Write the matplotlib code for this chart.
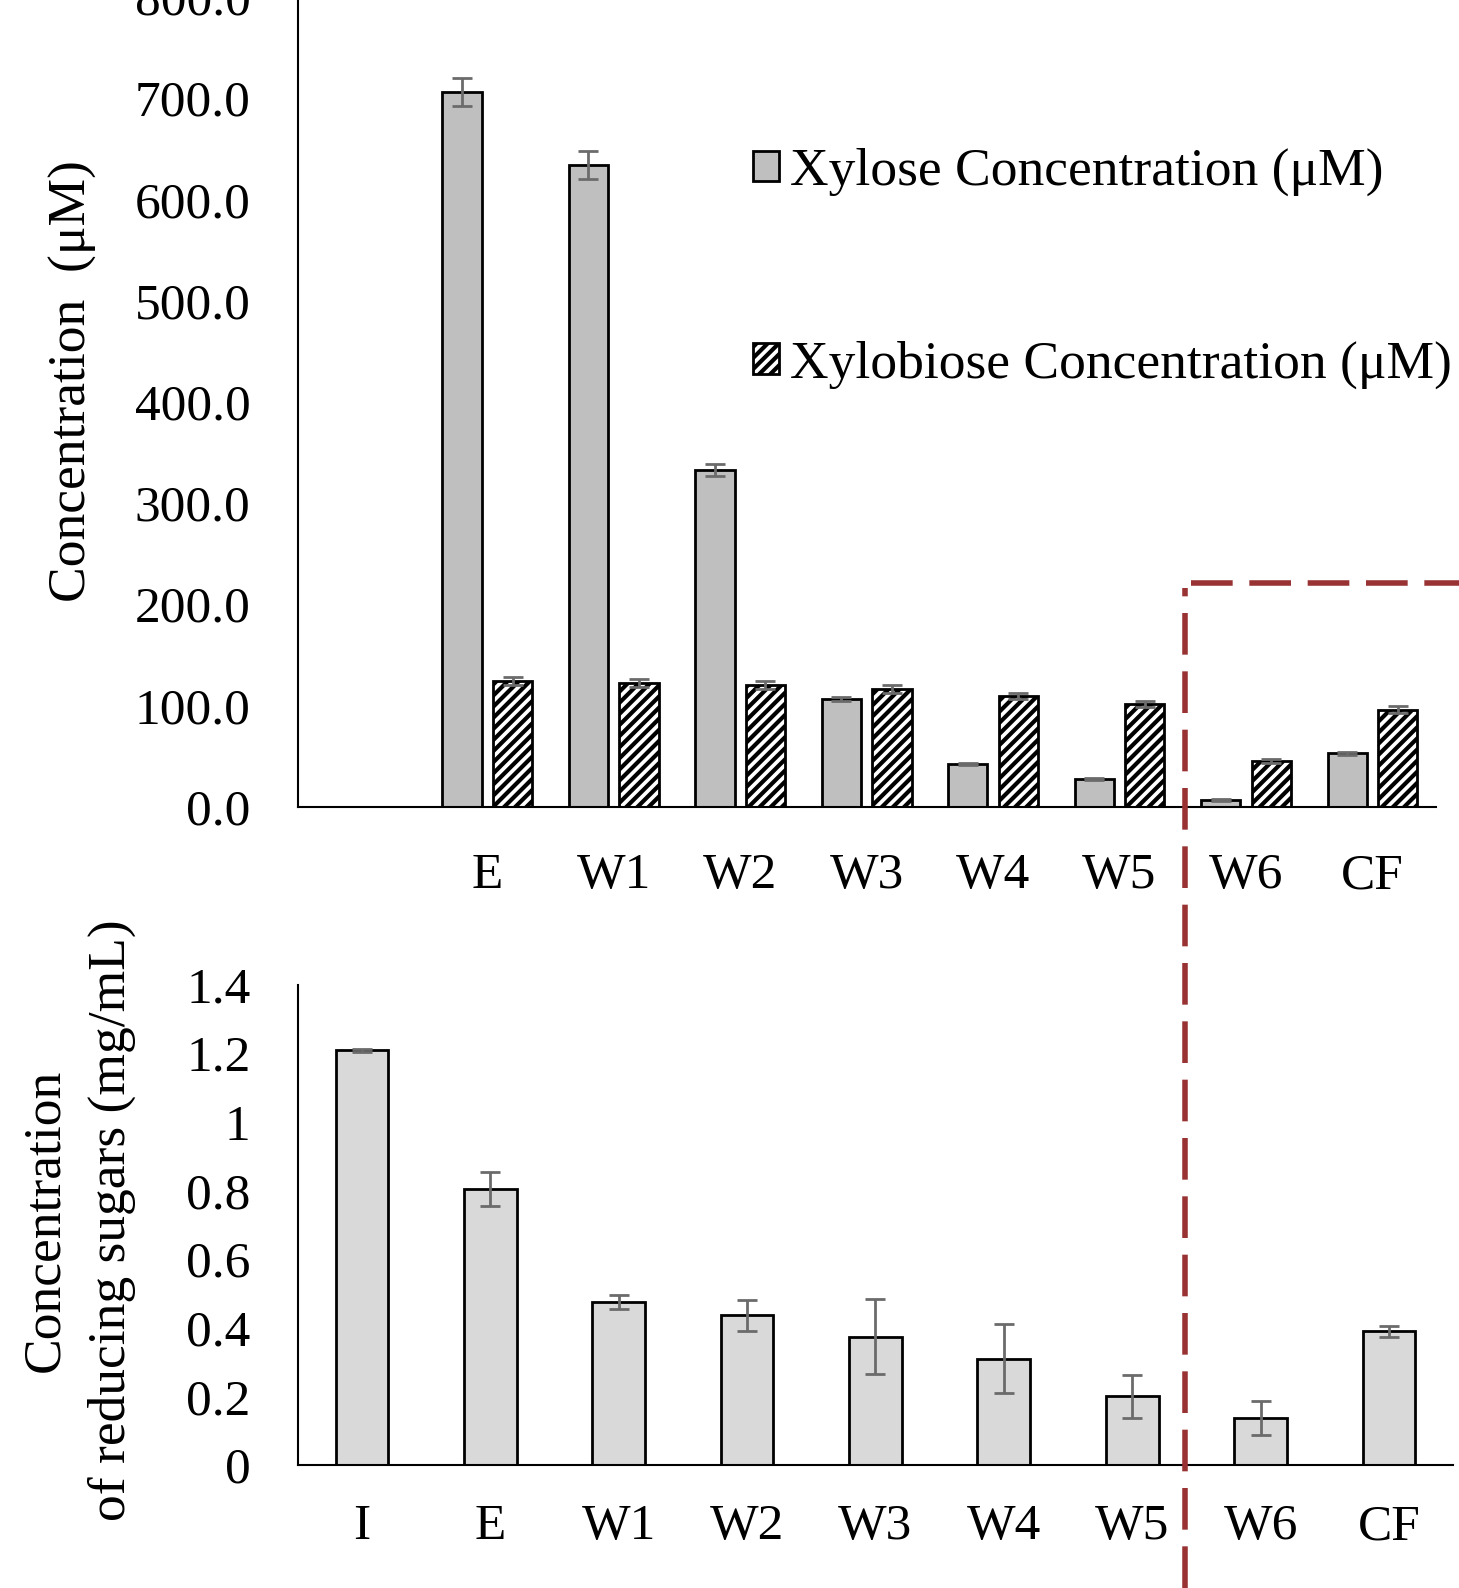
import numpy as np
import matplotlib
matplotlib.use("Agg")
import matplotlib.pyplot as plt
from matplotlib.lines import Line2D

plt.rcParams['font.family'] = ['Liberation Serif', 'DejaVu Serif']
plt.rcParams['hatch.linewidth'] = 3.0

# top panel: HPLC sugars
top_labels = ['', 'E', 'W1', 'W2', 'W3', 'W4', 'W5', 'W6', 'CF']
xylose = [np.nan, 706, 634, 333, 106, 42, 27, 7, 53]
xylose_err = [np.nan, 14, 14, 6, 2, 1, 1, 1, 1.5]
xylobiose = [np.nan, 124, 122, 120, 116, 109, 101, 45, 96]
xylobiose_err = [np.nan, 4, 4, 4, 4, 3, 3, 2, 3]

# bottom panel: reducing sugars
bot_labels = ['I', 'E', 'W1', 'W2', 'W3', 'W4', 'W5', 'W6', 'CF']
reducing = [1.208, 0.805, 0.475, 0.436, 0.374, 0.31, 0.2, 0.136, 0.389]
reducing_err = [0.005, 0.05, 0.02, 0.045, 0.11, 0.10, 0.063, 0.05, 0.015]

FS = 37
LFS = 38.5
err_kw = dict(ecolor='#6b6b6b', elinewidth=2, capsize=7, capthick=2)

fig = plt.figure(figsize=(14.59, 15.88), dpi=100)

ax1 = fig.add_axes([0.204, 0.492, 0.780, 0.510])
x = np.arange(len(top_labels))
w = 0.31
ax1.bar(x - 0.2, xylose, w, yerr=xylose_err, color='#bfbfbf', edgecolor='black',
        linewidth=2, error_kw=err_kw, label='Xylose Concentration (μM)')
ax1.bar(x + 0.2, xylobiose, w, yerr=xylobiose_err, color='white', edgecolor='black',
        hatch='///', linewidth=2, error_kw=err_kw, label='Xylobiose Concentration (μM)')
ax1.set_xlim(-0.5, len(top_labels) - 0.5)
ax1.set_ylim(0, 800)
ax1.set_yticks(np.arange(0, 801, 100))
ax1.set_yticklabels([f'{v:.1f}' for v in np.arange(0, 801, 100)])
ax1.set_xticks(x)
ax1.set_xticklabels(top_labels)
ax1.tick_params(axis='both', length=0, labelsize=FS)
ax1.tick_params(axis='y', pad=34)
ax1.tick_params(axis='x', pad=33)
ax1.set_ylabel('Concentration  (μM)', fontsize=LFS)
ax1.yaxis.set_label_coords(-0.176, 0.525)
leg = ax1.legend(loc='upper left', bbox_to_anchor=(0.381, 0.84), frameon=False,
                 fontsize=LFS, handlelength=0.5, handleheight=0.5,
                 handletextpad=0.2, labelspacing=2.7, borderaxespad=0)

ax2 = fig.add_axes([0.204, 0.0775, 0.792, 0.3025])
x2 = np.arange(len(bot_labels))
ax2.bar(x2, reducing, 0.41, yerr=reducing_err, color='#d9d9d9', edgecolor='black',
        linewidth=2, error_kw=err_kw)
ax2.set_xlim(-0.5, len(bot_labels) - 0.5)
ax2.set_ylim(0, 1.4)
ax2.set_yticks(np.arange(0, 1.41, 0.2))
ax2.set_yticklabels(['0', '0.2', '0.4', '0.6', '0.8', '1', '1.2', '1.4'])
ax2.set_xticks(x2)
ax2.set_xticklabels(bot_labels)
ax2.tick_params(axis='both', length=0, labelsize=FS)
ax2.tick_params(axis='y', pad=34)
ax2.tick_params(axis='x', pad=28)
ax2.set_ylabel('Concentration\nof reducing sugars (mg/mL)', fontsize=LFS, linespacing=1.5)
ax2.yaxis.set_label_coords(-0.1396, 0.51)

for ax in (ax1, ax2):
    for s in ('top', 'right'):
        ax.spines[s].set_visible(False)
    for s in ('left', 'bottom'):
        ax.spines[s].set_linewidth(1.5)

# dashed red frame around W6 / CF
red = '#993333'
fig.add_artist(Line2D([0.812, 0.812], [0.0, 0.630], color=red, lw=4,
                      dashes=(7.5, 3), transform=fig.transFigure))
fig.add_artist(Line2D([0.816, 1.0], [0.633, 0.633], color=red, lw=4,
                      dashes=(7.5, 3), transform=fig.transFigure))

fig.savefig('out.png', dpi=100)
